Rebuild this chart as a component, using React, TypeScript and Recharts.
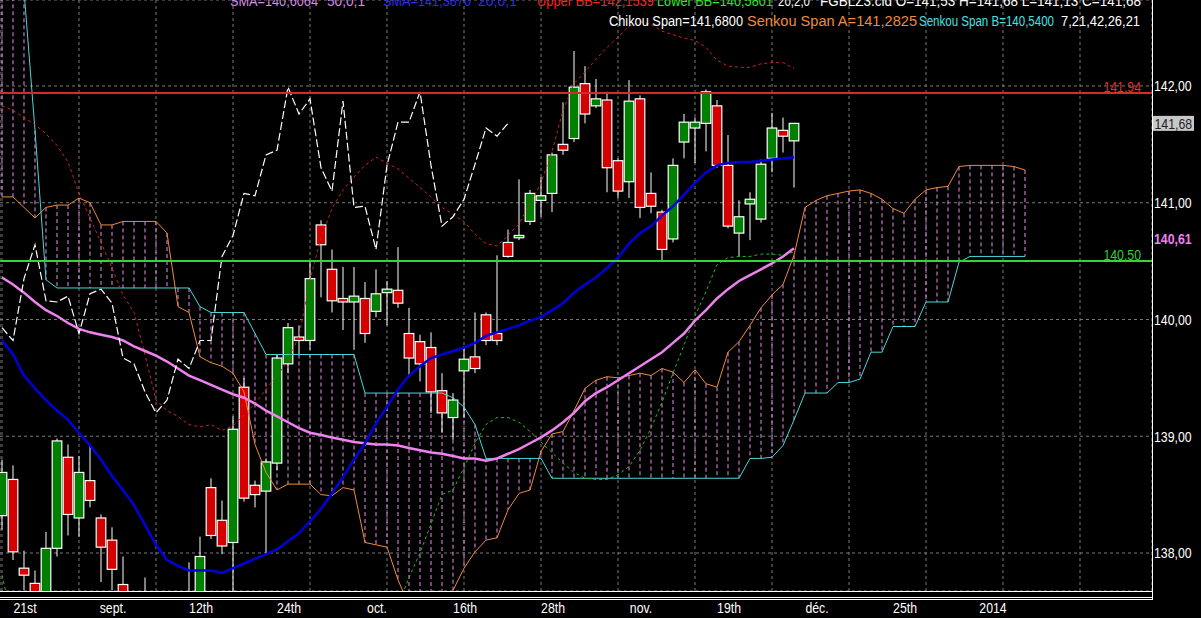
import React from "react";
import {
  ComposedChart,
  Bar,
  Line,
  XAxis,
  YAxis,
  CartesianGrid,
  ReferenceLine,
} from "recharts";

// Arial Narrow look: Liberation Sans squeezed horizontally
const FONT = "'Liberation Sans', Arial, sans-serif";
const SQUEEZE = 0.82;

// FGBL Z3 daily bars: [open, high, low, close]
const ohlc: [number, number, number, number][] = [
  [138.32, 138.8, 138.2, 138.69],
  [138.63, 138.75, 137.94, 138.01],
  [137.87, 138.02, 137.68, 137.81],
  [137.74, 137.85, 137.55, 137.6],
  [137.55, 138.18, 137.45, 138.04],
  [138.04, 138.98, 137.97, 138.96],
  [138.82, 138.93, 138.15, 138.33],
  [138.3, 138.83, 138.14, 138.69],
  [138.62, 138.93, 138.39, 138.45],
  [138.3, 138.33, 137.75, 138.05],
  [138.11, 138.22, 137.68, 137.86],
  [137.73, 137.97, 137.45, 137.55],
  [137.5, 137.62, 137.3, 137.4],
  [137.55, 137.79, 137.35, 137.45],
  [137.4, 137.6, 137.2, 137.3],
  [137.3, 137.55, 137.15, 137.45],
  [137.45, 137.6, 137.25, 137.5],
  [137.5, 137.92, 137.35, 137.6],
  [137.55, 138.14, 137.4, 137.97],
  [138.56, 138.64, 138.12, 138.15],
  [138.28, 138.45, 137.99, 138.06],
  [138.09, 139.17, 137.6, 139.06],
  [139.42, 139.5, 138.44, 138.47],
  [138.58, 138.62, 138.39, 138.5],
  [138.53, 138.81, 138.0, 138.78],
  [138.77, 139.7, 138.71, 139.67],
  [139.62, 139.97, 139.54, 139.93],
  [139.85, 139.95, 139.7, 139.82],
  [139.82, 140.51, 139.74, 140.35],
  [140.81, 140.85, 140.19, 140.64],
  [140.43, 140.6, 140.06, 140.16],
  [140.18, 140.45, 139.91, 140.15],
  [140.15, 140.45, 139.74, 140.2],
  [140.18, 140.32, 139.8, 139.88],
  [140.07, 140.43, 140.02, 140.22],
  [140.23, 140.33, 139.95, 140.26],
  [140.25, 140.62, 140.1, 140.14],
  [139.88, 140.1, 139.51, 139.67],
  [139.81, 139.87, 139.47, 139.62],
  [139.76, 139.89, 139.2, 139.38],
  [139.39, 139.54, 139.03, 139.2],
  [139.16, 139.37, 138.97, 139.31],
  [139.56, 139.77, 139.16, 139.66],
  [139.68, 140.06, 139.54, 139.58],
  [140.04, 140.06, 139.78, 139.82],
  [139.88, 140.55, 139.78, 139.82],
  [140.66, 140.77, 140.53, 140.54],
  [140.7, 141.2, 140.68, 140.72],
  [140.84, 141.11, 140.81, 141.08],
  [141.02, 141.22, 140.88, 141.06],
  [141.08, 141.43, 140.92, 141.41],
  [141.5, 141.86, 141.41, 141.45],
  [141.55, 142.3, 141.52, 141.99],
  [142.02, 142.17, 141.68, 141.76],
  [141.83, 142.06, 141.81, 141.89],
  [141.88, 141.95, 141.09, 141.3],
  [141.36, 141.38, 141.04, 141.1],
  [141.18, 142.05, 141.04, 141.87],
  [141.89, 141.92, 140.87, 140.96],
  [141.08, 141.26, 140.91, 140.97],
  [140.92, 140.94, 140.51, 140.6],
  [140.69, 141.38, 140.66, 141.32],
  [141.52, 141.76, 141.38, 141.69],
  [141.64, 141.73, 141.34, 141.69],
  [141.68, 141.97, 141.44, 141.95],
  [141.83, 141.88, 141.3, 141.32],
  [141.32, 141.58, 140.78, 140.8],
  [140.74, 141.02, 140.54, 140.88],
  [140.99, 141.09, 140.68, 141.03],
  [140.86, 141.37, 140.83, 141.33],
  [141.38, 141.77, 141.26, 141.64],
  [141.62, 141.73, 141.43, 141.57],
  [141.53, 141.68, 141.13, 141.68],
];

const sma50 = [
  140.36, 140.3, 140.23, 140.15, 140.08, 140.03, 139.97, 139.92, 139.89, 139.87,
  139.85, 139.82, 139.77, 139.73, 139.69, 139.64, 139.58, 139.52, 139.48, 139.44,
  139.4, 139.36, 139.33, 139.28, 139.22, 139.17, 139.12, 139.07, 139.03, 139.01,
  138.99, 138.97, 138.95, 138.94, 138.93, 138.93, 138.92, 138.9, 138.88, 138.86,
  138.85, 138.83, 138.81, 138.81, 138.79, 138.81, 138.85, 138.89, 138.94, 138.99,
  139.05, 139.12, 139.2, 139.3, 139.37, 139.42, 139.48, 139.54, 139.6, 139.66,
  139.72, 139.8, 139.88, 139.99, 140.08, 140.18, 140.26, 140.33, 140.38, 140.43,
  140.48, 140.54, 140.61,
];

const sma20 = [
  139.82, 139.7, 139.52, 139.41, 139.31, 139.22, 139.14, 139.03, 138.92, 138.8,
  138.66, 138.54, 138.41, 138.24, 138.07, 137.94, 137.89, 137.85, 137.85, 137.85,
  137.83, 137.87, 137.91, 137.95, 137.99, 138.03, 138.1, 138.17, 138.27, 138.38,
  138.51, 138.65, 138.8, 138.94, 139.11, 139.25, 139.4, 139.52, 139.6, 139.67,
  139.7, 139.73, 139.76, 139.8, 139.86, 139.89, 139.92, 139.95, 139.99, 140.02,
  140.08, 140.14, 140.23, 140.3, 140.36, 140.44, 140.53, 140.65, 140.74, 140.8,
  140.89, 140.97, 141.07, 141.17, 141.26, 141.32, 141.34, 141.35, 141.35, 141.36,
  141.37, 141.38, 141.39,
];

const bbUpper = [
  141.83, 141.79, 141.73, 141.67, 141.59, 141.49, 141.35, 141.08, 140.87, 140.66,
  140.44, 140.21, 140.06, 139.7, 139.31, 139.22, 139.17, 139.1, 139.08, 139.1,
  139.05, 139.09, 139.18, 139.28, 139.4, 139.52, 139.64, 139.86, 140.34, 140.7,
  140.95, 141.11, 141.22, 141.32, 141.39, 141.34, 141.29, 141.21, 141.13, 141.05,
  140.96, 140.9, 140.84, 140.73, 140.65, 140.63, 140.72, 140.82, 140.99, 141.17,
  141.44, 141.79, 142.02, 142.12, 142.23, 142.33, 142.42, 142.51, 142.55, 142.53,
  142.47, 142.44, 142.41, 142.39, 142.33, 142.22, 142.17, 142.16, 142.16, 142.19,
  142.2, 142.2, 142.15,
];

const bbLower = [
  137.81, 137.4, 137.1, 136.9, 136.8, 136.75, 136.8, 136.95, 137.05, 137.0,
  136.85, 136.6, 136.45, 136.35, 136.3, 136.4, 136.5, 136.55, 136.6, 136.65,
  136.6, 136.62, 136.7, 136.8, 136.85, 136.9, 136.95, 137.0, 136.9, 136.7,
  136.55, 136.45, 136.45, 136.6, 136.9, 137.2, 137.55, 137.79, 138.0, 138.25,
  138.5, 138.54, 138.73, 138.94, 139.1, 139.16, 139.16, 139.12, 139.04, 138.95,
  138.86, 138.77, 138.69, 138.64, 138.63, 138.63, 138.67, 138.74, 138.88, 139.07,
  139.29, 139.54, 139.78, 140.03, 140.24, 140.47, 140.53, 140.54, 140.54, 140.56,
  140.56, 140.55, 140.58,
];

// cloud spans, already displaced forward on the chart
const senkouA = [
  141.05, 141.05, 140.96, 140.87, 140.96, 140.98, 140.98, 141.04, 141.0, 140.81,
  140.81, 140.84, 140.84, 140.84, 140.84, 140.74, 140.11, 140.06, 139.68, 139.63,
  139.6, 139.54, 139.38, 138.93, 138.69, 138.54, 138.59, 138.59, 138.59, 138.5,
  138.49, 138.56, 138.54, 138.09, 138.07, 138.05, 137.77, 137.55, 137.49, 137.51,
  137.55, 137.68, 137.87, 138.01, 138.11, 138.13, 138.37, 138.51, 138.54, 138.87,
  139.02, 139.04, 139.22, 139.41, 139.48, 139.51, 139.5, 139.52, 139.54, 139.52,
  139.58, 139.55, 139.46, 139.57, 139.45, 139.42, 139.72, 139.81, 139.95, 140.1,
  140.21, 140.3, 140.55, 140.96, 141.02, 141.06, 141.08, 141.1, 141.11, 141.08,
  141.03, 140.95, 140.91, 141.03, 141.11, 141.13, 141.14, 141.31, 141.32, 141.32,
  141.32, 141.32, 141.31, 141.28,
];

const senkouB = [
  143.0, 143.0, 142.82, 141.62, 140.34, 140.27, 140.27, 140.27, 140.27, 140.27,
  140.27, 140.27, 140.27, 140.27, 140.27, 140.27, 140.27, 140.27, 140.11, 140.06,
  140.06, 140.06, 140.06, 139.88, 139.7, 139.7, 139.7, 139.7, 139.7, 139.7,
  139.7, 139.7, 139.7, 139.37, 139.37, 139.37, 139.37, 139.37, 139.37, 139.37,
  139.37, 139.33, 139.25, 139.1, 138.81, 138.81, 138.81, 138.81, 138.81, 138.81,
  138.64, 138.64, 138.64, 138.64, 138.64, 138.64, 138.64, 138.64, 138.64, 138.64,
  138.64, 138.64, 138.64, 138.64, 138.64, 138.64, 138.64, 138.64, 138.81, 138.81,
  138.82, 138.92, 139.14, 139.37, 139.37, 139.37, 139.46, 139.46, 139.49, 139.72,
  139.72, 139.94, 139.94, 139.94, 140.15, 140.15, 140.15, 140.49, 140.54, 140.54,
  140.54, 140.54, 140.54, 140.54,
];

const chikouShift = 26;

const xLabels = ["21st", "sept.", "12th", "24th", "oct.", "16th", "28th", "nov.", "19th", "déc.", "25th", "2014"];
const xLabelIdx = [2, 10, 18, 26, 34, 42, 50, 58, 66, 74, 82, 90];
const xGridIdx = [0, 7, 14, 21, 28, 35, 42, 49, 56, 63, 70, 77, 84, 91, 98];
const yTicks = [138, 139, 140, 141, 142];
const resistance = 141.94;
const support = 140.5;

const X_DOMAIN: [number, number] = [-0.1818, 104.545];
const Y_DOMAIN: [number, number] = [137.6745, 142.7366];

const rows = senkouA.map((a, i) => {
  const c = ohlc[i];
  const b = senkouB[i];
  const ch = ohlc[i + chikouShift];
  return {
    i,
    candle: c ? [c[2], c[1]] : null,
    bar: c || null,
    sma50: sma50[i] ?? null,
    sma20: sma20[i] ?? null,
    bbUp: bbUpper[i] ?? null,
    bbLo: bbLower[i] ?? null,
    chikou: ch ? ch[3] : null,
    spanA: a,
    spanB: b,
    cloud: [Math.min(a, b), Math.max(a, b)],
  };
});

const last = ohlc[ohlc.length - 1];
const fmt = (v: number, d = 2) => v.toFixed(d).replace(".", ",");

function NText({ x, y, anchor = "start", size = 15, width, children, ...rest }: any) {
  return (
    <text
      transform={`translate(${x},${y}) scale(${SQUEEZE},1)`}
      textAnchor={anchor}
      fontFamily={FONT}
      fontSize={size}
      textLength={width ? width / SQUEEZE : undefined}
      lengthAdjust={width ? "spacingAndGlyphs" : undefined}
      {...rest}
    >
      {children}
    </text>
  );
}

function Candle(p: any) {
  const { x, y, width, height, payload } = p;
  const bar = payload && payload.bar;
  if (!bar || height == null) return null;
  const [o, h, l, c] = bar;
  const cx = x + width / 2;
  const top = Math.min(y, y + height);
  const span = Math.abs(height);
  const k = h === l ? 0 : span / (h - l);
  const py = (v: number) => top + (h - v) * k;
  const bTop = py(Math.max(o, c));
  const bBot = py(Math.min(o, c));
  const up = c >= o;
  return (
    <g>
      <line x1={cx} x2={cx} y1={top} y2={top + span} stroke="#ffffff" strokeWidth={1} />
      <rect
        x={cx - 4.8}
        y={bTop}
        width={9.6}
        height={Math.max(bBot - bTop, 1)}
        fill={up ? "#008000" : "#d40000"}
        stroke="#ffffff"
        strokeWidth={1.2}
      />
    </g>
  );
}

function Hatch(p: any) {
  const { x, y, width, height } = p;
  if (height == null) return null;
  const cx = x + width / 2;
  return (
    <line
      x1={cx}
      x2={cx}
      y1={Math.min(y, y + height)}
      y2={Math.max(y, y + height)}
      stroke="#e88ee8"
      strokeWidth={1}
      strokeDasharray="4 3"
    />
  );
}

function YTick({ x, y, payload }: any) {
  return (
    <NText x={x} y={y + 5.5} fill="#ffffff">
      {fmt(payload.value)}
    </NText>
  );
}

function XTick({ x, y, payload }: any) {
  const k = xLabelIdx.indexOf(payload.value);
  return (
    <NText x={x + 1} y={y + 22} fill="#ffffff" anchor="middle">
      {k >= 0 ? xLabels[k] : ""}
    </NText>
  );
}

function LineTag({ viewBox, text, color }: any) {
  return (
    <NText x={viewBox.x + viewBox.width - 11} y={viewBox.y - 1} fill={color} anchor="end">
      {text}
    </NText>
  );
}

function CloseTag({ viewBox }: any) {
  const x = viewBox.x + viewBox.width + 1;
  return (
    <g>
      <rect x={x} y={viewBox.y - 7.5} width={41} height={15} fill="#c8c8c8" />
      <NText x={x + 1.5} y={viewBox.y + 5.5} fill="#202020">
        {fmt(last[3])}
      </NText>
    </g>
  );
}

function SmaTag({ viewBox }: any) {
  return (
    <NText x={viewBox.x + viewBox.width + 2} y={viewBox.y - 4} fill="#ee82ee" fontWeight="bold">
      {fmt(sma50[sma50.length - 1])}
    </NText>
  );
}

const header1 = [
  { t: "SMA=140,6064", x: 230, w: 88, c: "#d98ae8" },
  { t: "50,0,1", x: 327, w: 38, c: "#d98ae8" },
  { t: "SMA=141,3870", x: 383, w: 88, c: "#2a2aff" },
  { t: "20,0,1", x: 478, w: 39, c: "#2a2aff" },
  { t: "Upper BB=142,1539", x: 537, w: 117, c: "#ff2020" },
  { t: "Lower BB=140,5801", x: 657, w: 116, c: "#22ee22" },
  { t: "20,2,0", x: 778, w: 32, c: "#ffffff" },
  { t: "FGBLZ3.cld O=141,53 H=141,68 L=141,13 C=141,68", x: 820, w: 321, c: "#ffffff" },
];

const header2 = [
  { t: "Chikou Span=141,6800", x: 609, w: 134, c: "#ffffff" },
  { t: "Senkou Span A=141,2825", x: 747, w: 170, c: "#f08a3c" },
  { t: "Senkou Span B=140,5400", x: 919, w: 135, c: "#44e0e0" },
  { t: "7,21,42,26,21", x: 1061, w: 79, c: "#ffffff" },
];

export default function App() {
  return (
    <div style={{ position: "absolute", left: 0, top: 0, width: 1201, height: 618, background: "#000", overflow: "hidden" }}>
      <ComposedChart width={1201} height={618} data={rows} margin={{ top: 0, right: 0, bottom: 0, left: 0 }}>
        <CartesianGrid xAxisId="h" stroke="#7a7a7a" strokeDasharray="3 3" />
        <XAxis
          dataKey="i"
          type="number"
          domain={X_DOMAIN}
          allowDataOverflow
          ticks={xLabelIdx}
          interval={0}
          tick={<XTick />}
          tickLine={false}
          axisLine={false}
          tickSize={0}
          tickMargin={0}
          height={27}
        />
        <XAxis xAxisId="h" dataKey="i" type="number" domain={X_DOMAIN} allowDataOverflow ticks={xGridIdx} interval={0} hide />
        <YAxis
          orientation="right"
          width={49}
          domain={Y_DOMAIN}
          allowDataOverflow
          ticks={yTicks}
          interval={0}
          tick={<YTick />}
          tickLine={false}
          axisLine={false}
          tickSize={0}
          tickMargin={2}
        />
        <Bar xAxisId="h" dataKey="cloud" barSize={3} shape={<Hatch />} isAnimationActive={false} />
        <Line dataKey="spanA" stroke="#f08a3c" strokeWidth={1} dot={false} activeDot={false} isAnimationActive={false} />
        <Line dataKey="spanB" stroke="#48d8d8" strokeWidth={1} dot={false} activeDot={false} isAnimationActive={false} />
        <Bar dataKey="candle" barSize={9} shape={<Candle />} isAnimationActive={false} />
        <Line dataKey="bbUp" stroke="#cc2424" strokeWidth={1} strokeDasharray="3 3" dot={false} activeDot={false} isAnimationActive={false} />
        <Line dataKey="bbLo" stroke="#22bb22" strokeWidth={1} strokeDasharray="3 3" dot={false} activeDot={false} isAnimationActive={false} />
        <Line dataKey="sma50" stroke="#ee82ee" strokeWidth={2.5} dot={false} activeDot={false} isAnimationActive={false} />
        <Line dataKey="sma20" stroke="#0000dd" strokeWidth={2.5} dot={false} activeDot={false} isAnimationActive={false} />
        <Line dataKey="chikou" stroke="#ffffff" strokeWidth={1.2} strokeDasharray="8 3" dot={false} activeDot={false} isAnimationActive={false} />
        <ReferenceLine y={resistance} stroke="#d42a2a" strokeWidth={2} label={<LineTag text={fmt(resistance)} color="#e03030" />} />
        <ReferenceLine y={support} stroke="#33d633" strokeWidth={2} label={<LineTag text={fmt(support)} color="#33cc33" />} />
        <ReferenceLine y={last[3]} stroke="none" label={<CloseTag />} />
        <ReferenceLine y={sma50[sma50.length - 1]} stroke="none" label={<SmaTag />} />
      </ComposedChart>
      <svg width={1201} height={618} style={{ position: "absolute", left: 0, top: 0, pointerEvents: "none" }}>
        <line x1={1152.5} x2={1152.5} y1={0} y2={600} stroke="#fff" strokeWidth={1} />
        <line x1={0} x2={1153} y1={591.5} y2={591.5} stroke="#fff" strokeWidth={1} />
        <line x1={0} x2={1153} y1={597.5} y2={597.5} stroke="#fff" strokeWidth={1} />
        <line x1={0} x2={1153} y1={599.5} y2={599.5} stroke="#fff" strokeWidth={1} />
        {header1.map((h) => (
          <NText key={h.t} x={h.x} y={6} fill={h.c} width={h.w}>
            {h.t}
          </NText>
        ))}
        {header2.map((h) => (
          <NText key={h.t} x={h.x} y={26} fill={h.c} width={h.w}>
            {h.t}
          </NText>
        ))}
      </svg>
    </div>
  );
}
